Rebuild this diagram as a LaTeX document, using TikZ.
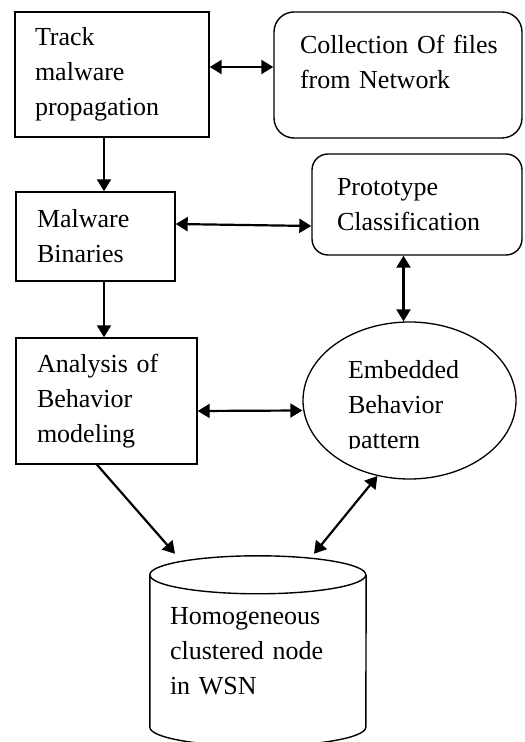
\documentclass[tikz,border=0pt]{standalone}
\usepackage{fontspec}
\setmainfont{Liberation Serif}
\usetikzlibrary{arrows.meta, shapes.geometric, positioning}

\begin{document}
\begin{tikzpicture}[x=1pt, y=1pt,
  every node/.style={font=\fontsize{26}{35}\selectfont},
  box/.style={draw, line width=1.4pt, rectangle, align=left, inner ysep=0pt},
  rbox/.style={box, rounded corners=18pt},
  tip/.style={-{Triangle[length=12pt,width=14pt]}},
  link/.style={line width=2.2pt, tip},
  both/.style={line width=2.2pt, {Triangle[length=12pt,width=14pt]}-{Triangle[length=12pt,width=14pt]}}]
  \useasboundingbox (0,0) rectangle (525,742);

  % Left column
  \node[box, minimum width=194pt, minimum height=125pt, inner xsep=20pt, text width=154pt]
    (track) at (112,667.5) {Track\\malware\\propagation};
  \node[box, minimum width=159pt, minimum height=89pt, inner xsep=21pt, text width=117pt]
    (bin) at (95.5,505.5) {Malware\\Binaries};
  \node[box, minimum width=181pt, minimum height=126pt, inner xsep=21pt, text width=139pt]
    (ana) at (106.5,341) {Analysis of\\Behavior\\modeling};

  % Right column
  \node[rbox, rounded corners=20pt, minimum width=248pt, minimum height=126pt, inner xsep=26pt,
    text width=196pt, text depth=62pt]
    (coll) at (398,667) {Collection~Of~files\\from Network};
  \node[rbox, rounded corners=16pt, minimum width=210pt, minimum height=101pt, inner xsep=25pt,
    text width=160pt]
    (proto) at (417,537.5) {Prototype\\Classification};
  \node[ellipse, draw, line width=1.3pt, minimum width=213pt, minimum height=157pt]
    (emb) at (409.5,341.5) {};
  \begin{scope}
    \clip (300,293) rectangle (520,420);
    \node[align=left, text width=123pt, inner sep=0pt] (embtext) at (409.5,335.1)
      {Embedded\\Behavior\\pattern};
  \end{scope}

  % Storage cylinder
  \node[minimum width=216pt, minimum height=190pt, inner xsep=20pt, text width=176pt,
    align=left, inner ysep=0pt]
    (wsn) at (258,91) {Homogeneous\\clustered node\\in WSN};
  \draw[line width=1.4pt] ([yshift=-19pt]wsn.north west)
    arc[start angle=180, end angle=-180, x radius=108, y radius=19];
  \draw[line width=1.4pt] ([yshift=-19pt]wsn.north west) -- ([yshift=19pt]wsn.south west)
    arc[start angle=180, end angle=360, x radius=108, y radius=19]
    -- ([yshift=-19pt]wsn.north east);

  % Connectors
  \draw[both] ([yshift=7.5pt]track.east) -- ([yshift=8pt]coll.west);
  \draw[link] ([xshift=-8pt]track.south) -- ([xshift=-8pt]track.south |- bin.north);
  \draw[both] ([yshift=12.5pt]bin.east) -- ([yshift=-21.5pt]proto.west);
  \draw[link] ([xshift=8.5pt]bin.south) -- ([xshift=8.5pt]bin.south |- ana.north);
  \draw[both] ([xshift=-6pt]proto.south -| emb.north) -- ([xshift=-6pt]emb.north);
  \draw[both] ([yshift=-10pt]ana.east) -- ([yshift=-10pt]emb.west);
  \draw[link] ([xshift=-9.5pt]ana.south) -- ([xshift=-83pt,yshift=2pt]wsn.north);
  \draw[both] (emb.247) -- ([xshift=56pt,yshift=2pt]wsn.north);
\end{tikzpicture}
\end{document}
